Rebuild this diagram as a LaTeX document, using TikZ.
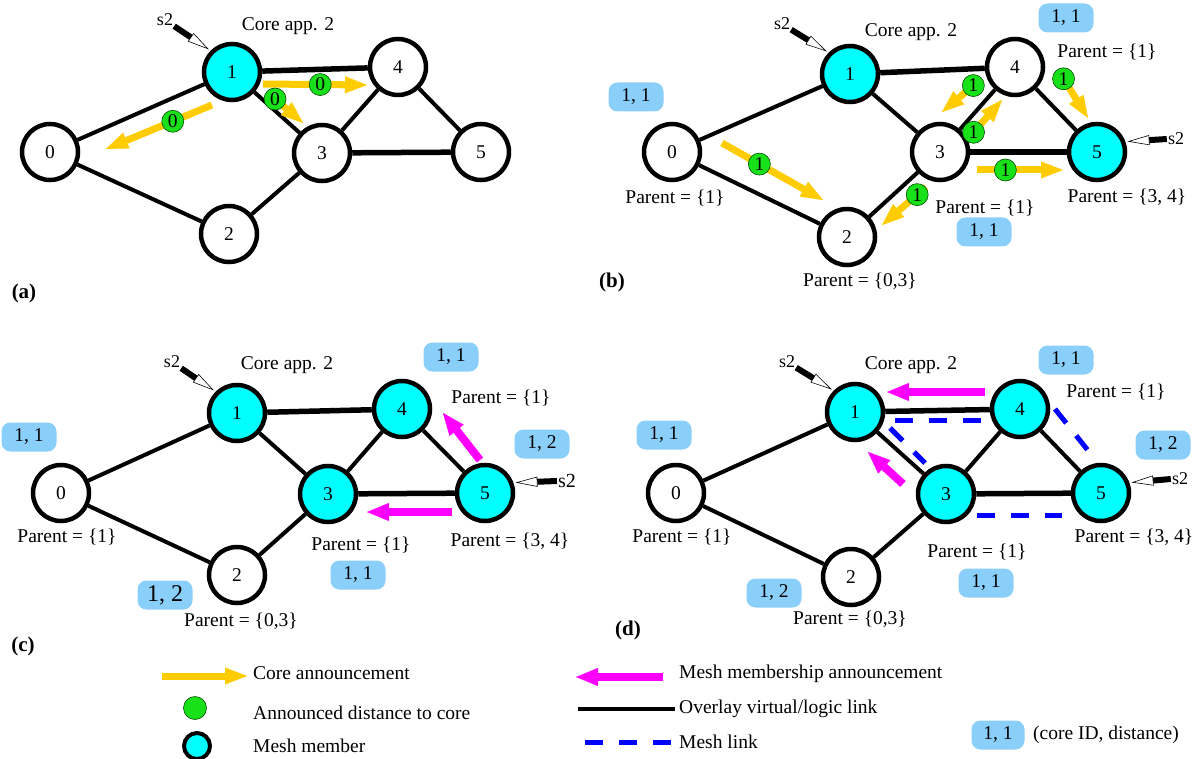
\documentclass[tikz,border=0pt]{standalone}
\usepackage{fontspec}
\setmainfont{Liberation Serif}
\usetikzlibrary{arrows.meta,calc}

\definecolor{meshcyan}{RGB}{0,255,255}
\definecolor{coregold}{RGB}{255,204,0}
\definecolor{distgreen}{RGB}{25,225,25}
\definecolor{tagblue}{RGB}{138,206,250}
\definecolor{joinpink}{RGB}{255,0,255}
\definecolor{meshblue}{RGB}{0,0,255}

\begin{document}
\begin{tikzpicture}[x=1pt,y=-1pt,font=\fontsize{19.5}{22}\selectfont,
  router/.style={circle,draw,line width=4.5pt,minimum size=56pt,inner sep=0pt,fill=white},
  member/.style={router,fill=meshcyan},
  link/.style={line width=4pt},
  trunk/.style={line width=5.5pt},
  announce/.style={draw=coregold,line width=7pt,-{Triangle[length=22pt,width=17pt,line width=0.1pt]}},
  joinarrow/.style={draw=joinpink,line width=8pt,-{Triangle[length=22pt,width=18pt,line width=0.1pt]}},
  meshlink/.style={draw=meshblue,line width=5pt,dash pattern=on 18pt off 16pt},
  distball/.style={circle,fill=distgreen,draw=green!30!black,line width=0.6pt,inner sep=0pt,minimum size=22pt},
  coretag/.style={fill=tagblue,rounded corners=9pt,minimum width=55pt,minimum height=29pt,inner sep=0pt},
  parenttext/.style={inner sep=0pt},
  srclabel/.style={font=\fontsize{18}{20}\selectfont,inner sep=1pt},
  srcarrow/.style={line width=6pt,shorten >=2pt,-{Triangle[open,length=22pt,width=10pt,line width=0.6pt]}},
  panellabel/.style={font=\fontsize{21}{24}\selectfont\bfseries},
  legendtext/.style={anchor=west,inner sep=0pt}
]
\useasboundingbox (0,0) rectangle (1199,759);

% (a) core announces itself
\node[router] (a0) at (50,152)  {0};
\node[member] (a1) at (232,72)  {1};
\node[router] (a2) at (229,234) {2};
\node[router] (a3) at (322,153) {3};
\node[router] (a4) at (398,67)  {4};
\node[router] (a5) at (481,152) {5};
\node[srclabel] (sa) at (165,20) {s2};
\node (corea) at (288,26) {Core app. 2};
\node[panellabel] (capa) at (24,293) {(a)};

\path[link] (a0) edge (a1) edge (a2)
            (a1) edge (a3)
            (a3) edge (a2) edge (a4)
            (a4) edge (a5);
\path[trunk] (a1) edge (a4)
             (a3) edge (a5);
\draw[srcarrow] (sa) -- (a1.135);

\draw[announce] ($(a1)+(-20,33)$) -- node[distball,pos=0.37] {0} ($(a0)+(56,-3)$);
\draw[announce] ($(a1)+(31,12)$)  -- node[distball,pos=0.55] {0} ($(a4)+(-31,18)$);
\draw[announce] ($(a1)+(36,21)$)  -- node[distball,pos=0.2]  {0} ($(a3)+(-19,-30)$);

% (b) announcement forwarded with distance 1
\node[router] (b0) at (672,152)  {0};
\node[member] (b1) at (850,74)   {1};
\node[router] (b2) at (847,237)  {2};
\node[router] (b3) at (940,152)  {3};
\node[router] (b4) at (1015,67)  {4};
\node[member] (b5) at (1097,152) {5};
\node[srclabel] (sb)  at (782,24)   {s2};
\node[srclabel] (sb5) at (1176,139) {s2};
\node (coreb) at (911,32) {Core app. 2};
\node[panellabel] (capb) at (612,282) {(b)};
\node[coretag] (tb0) at (636,97)  {1, 1};
\node[coretag] (tb4) at (1066,18) {1, 1};
\node[coretag] (tb3) at (984,232) {1, 1};
\node[parenttext] (pb0) at (675,198)  {Parent = \{1\}};
\node[parenttext] (pb2) at (860,281)  {Parent = \{0,3\}};
\node[parenttext] (pb4) at (1107,52)  {Parent = \{1\}};
\node[parenttext] (pb3) at (985,208)  {Parent = \{1\}};
\node[parenttext] (pb5) at (1127,197) {Parent = \{3, 4\}};

\path[link] (b0) edge (b1) edge (b2)
            (b1) edge (b3)
            (b3) edge (b2) edge (b4)
            (b4) edge (b5);
\path[trunk] (b1) edge (b4)
             (b3) edge (b5);
\draw[srcarrow] (sb) -- (b1.135);
\draw[srcarrow] (sb5.west) -- (b5.20);

\draw[announce] ($(b0)+(50,-9)$)  -- node[distball,pos=0.37] {1} ($(b2)+(-24,-37)$);
\draw[announce] ($(b3)+(-14,35)$) -- node[distball,pos=0.2]  {1} ($(b2)+(35,-12)$);
\draw[announce] ($(b3)+(37,18)$)  -- node[distball,pos=0.33] {1} ($(b5)+(-34,18)$);
\draw[announce] ($(b3)+(32,-18)$) -- node[distball,pos=0.05] {1} ($(b4)+(-13,33)$);
\draw[announce] ($(b4)+(-41,18)$) -- node[distball,pos=0.02] {1} ($(b3)+(2,-40)$);
\draw[announce] ($(b4)+(48,11)$)  -- node[distball,pos=0.02] {1} ($(b5)+(-9,-34)$);

% (c) members join back towards the core
\node[router] (c0) at (61,493)  {0};
\node[member] (c1) at (237,413) {1};
\node[router] (c2) at (237,575) {2};
\node[member] (c3) at (328,494) {3};
\node[member] (c4) at (402,409) {4};
\node[member] (c5) at (485,493) {5};
\node[srclabel] (sc) at (172,362) {s2};
\node[srclabel,font=\fontsize{20}{22}\selectfont] (sc5) at (567,481) {s2};
\node (corec) at (287,365) {Core app. 2};
\node[panellabel] (capc) at (23,646) {(c)};
\node[coretag] (tc0) at (29,437)  {1, 1};
\node[coretag,font=\fontsize{24}{26}\selectfont] (tc2) at (165,595) {1, 2};
\node[coretag] (tc4) at (451,357) {1, 1};
\node[coretag] (tc5) at (542,444) {1, 2};
\node[coretag] (tc3) at (358,575) {1, 1};
\node[parenttext] (pc0) at (67,537)  {Parent = \{1\}};
\node[parenttext] (pc2) at (241,621) {Parent = \{0,3\}};
\node[parenttext] (pc4) at (501,398) {Parent = \{1\}};
\node[parenttext] (pc3) at (361,545) {Parent = \{1\}};
\node[parenttext] (pc5) at (510,541) {Parent = \{3, 4\}};

\path[link] (c0) edge (c1) edge (c2)
            (c1) edge (c3)
            (c3) edge (c2) edge (c4)
            (c4) edge (c5);
\path[trunk] (c1) edge (c4)
             (c3) edge (c5);
\draw[srcarrow] (sc) -- (c1.135);
\draw[srcarrow] (sc5.west) -- (c5.20);

\draw[joinarrow] ($(c5)+(-5,-33)$) -- ($(c4)+(41,4)$);
\draw[joinarrow] ($(c5)+(-33,19)$) -- ($(c3)+(39,18)$);

% (d) resulting mesh
\node[router] (d0) at (676,493)  {0};
\node[member] (d1) at (855,412)  {1};
\node[router] (d2) at (851,577)  {2};
\node[member] (d3) at (946,494)  {3};
\node[member] (d4) at (1020,409) {4};
\node[member] (d5) at (1101,493) {5};
\node[srclabel] (sd)  at (787,362)  {s2};
\node[srclabel] (sd5) at (1180,479) {s2};
\node (cored) at (911,365) {Core app. 2};
\node[panellabel] (capd) at (628,630) {(d)};
\node[coretag] (td0) at (664,435)  {1, 1};
\node[coretag] (td2) at (774,593)  {1, 2};
\node[coretag] (td4) at (1066,360) {1, 1};
\node[coretag] (td5) at (1163,445) {1, 2};
\node[coretag] (td3) at (986,583)  {1, 1};
\node[parenttext] (pd0) at (682,537)  {Parent = \{1\}};
\node[parenttext] (pd2) at (850,619)  {Parent = \{0,3\}};
\node[parenttext] (pd4) at (1116,392) {Parent = \{1\}};
\node[parenttext] (pd3) at (977,552)  {Parent = \{1\}};
\node[parenttext] (pd5) at (1134,537) {Parent = \{3, 4\}};

\path[link] (d0) edge (d1) edge (d2)
            (d1) edge (d3)
            (d3) edge (d2) edge (d4)
            (d4) edge (d5);
\path[trunk] (d1) edge (d4)
             (d3) edge (d5);
\draw[srcarrow] (sd) -- (d1.135);
\draw[srcarrow] (sd5.west) -- (d5.20);

\draw[meshlink] ($(d1)+(40,8)$)  -- ($(d4)+(-38,11)$);
\draw[meshlink] ($(d1)+(35,16)$) -- ($(d3)+(-21,-31)$);
\draw[meshlink] ($(d4)+(35,0)$)  -- ($(d5)+(-11,-40)$);
\draw[meshlink] ($(d3)+(31,21)$) -- ($(d5)+(-39,22)$);
\draw[joinarrow] ($(d4)+(-35,-17)$) -- ($(d1)+(32,-20)$);
\draw[joinarrow] ($(d3)+(-43,-10)$) -- ($(d1)+(13,40)$);

% legend
\node[legendtext] (lcore) at (253,673) {Core announcement};
\draw[announce] ($(lcore.west)+(-91,3)$) -- ($(lcore.west)+(-6,3)$);
\node[distball,minimum size=23pt] (ldist) at (195,708) {};
\node[legendtext] (ldisttext) at (253,713) {Announced distance to core};
\node[member,minimum size=26pt,line width=4pt] (lmember) at (197,746) {};
\node[legendtext] (lmembertext) at (253,746) {Mesh member};
\node[legendtext] (ljoin) at (679,674) {Mesh membership announcement};
\draw[joinarrow] ($(ljoin.west)+(-16,3)$) -- ($(ljoin.west)+(-103,3)$);
\node[legendtext] (llink) at (679,709) {Overlay virtual/logic link};
\draw[link] ($(llink.west)+(-101,0)$) -- ($(llink.west)+(-4,0)$);
\node[legendtext] (lmesh) at (679,742) {Mesh link};
\draw[meshlink] ($(lmesh.west)+(-94,0)$) -- ($(lmesh.west)+(-8,0)$);
\node[coretag,minimum width=53pt] (ltag) at (998,735) {1, 1};
\node[legendtext] (ltagtext) at (1033,735) {(core ID, distance)};

\end{tikzpicture}
\end{document}
